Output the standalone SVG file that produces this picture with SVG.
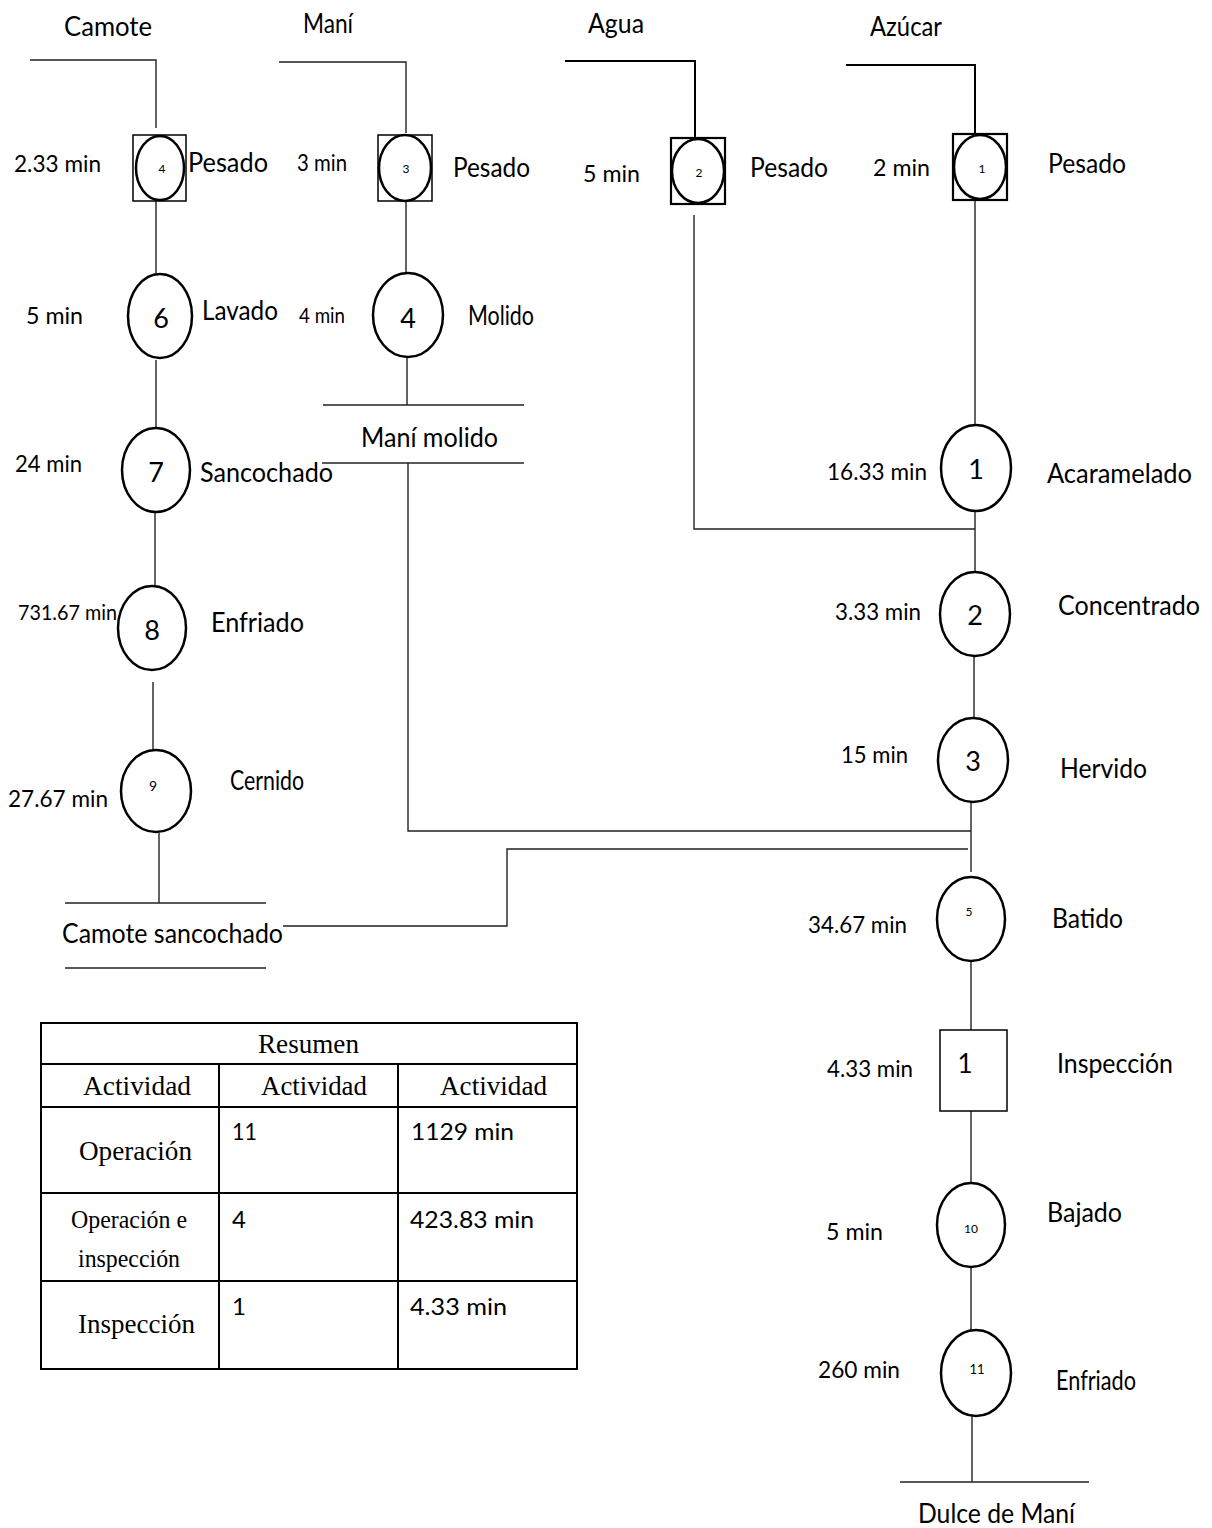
<svg xmlns="http://www.w3.org/2000/svg" width="1212" height="1528" viewBox="0 0 1212 1528">
  <style>
    .t { font-family: Lato, "Liberation Sans", sans-serif; font-size: 26px; fill: #000; }
    .m { font-family: Lato, "Liberation Sans", sans-serif; font-size: 24px; fill: #000; }
    .sm { font-family: Lato, "Liberation Sans", sans-serif; font-size: 21px; fill: #000; }
    .big { font-family: Lato, "Liberation Sans", sans-serif; font-size: 27px; fill: #000; text-anchor: middle; }
    .tiny { font-family: Lato, "Liberation Sans", sans-serif; font-size: 12px; fill: #000; text-anchor: middle; }
    .sf { font-family: "Liberation Serif", "Times New Roman", serif; font-size: 27px; fill: #000; }
    .op { fill: #fff; stroke: #000; stroke-width: 2.5; }
    .box { fill: none; stroke: #000; stroke-width: 1.5; }
    .boxb { fill: none; stroke: #000; stroke-width: 2.2; }
    .ln { fill: none; stroke: #222; stroke-width: 1.4; }
    .lnb { fill: none; stroke: #000; stroke-width: 2; }
    .grid { fill: none; stroke: #000; stroke-width: 2; }
  </style>

  <!-- connectors -->
  <g id="connectors">
    <!-- Camote branch -->
    <polyline class="ln" points="30,60 156,60 156,128"/>
    <line class="ln" x1="156" y1="201" x2="156" y2="275"/>
    <line class="ln" x1="156" y1="360" x2="156" y2="430"/>
    <line class="ln" x1="155" y1="512" x2="155" y2="586"/>
    <line class="ln" x1="153" y1="682" x2="153" y2="750"/>
    <line class="ln" x1="159" y1="833" x2="159" y2="903"/>
    <line class="ln" x1="65" y1="903" x2="266" y2="903"/>
    <line class="ln" x1="65" y1="968" x2="266" y2="968"/>
    <polyline class="ln" points="283,926 507,926 507,849 968,849"/>

    <!-- Maní branch -->
    <polyline class="ln" points="279,62 406,62 406,133"/>
    <line class="ln" x1="406" y1="201" x2="406" y2="273"/>
    <line class="ln" x1="407" y1="357" x2="407" y2="405"/>
    <line class="ln" x1="323" y1="405" x2="524" y2="405"/>
    <line class="ln" x1="322" y1="463" x2="524" y2="463"/>
    <polyline class="ln" points="408,463 408,831 971,831"/>

    <!-- Agua branch -->
    <polyline class="lnb" points="565,61 695,61 695,137"/>
    <polyline class="ln" points="694,215 694,529 975,529"/>

    <!-- Azúcar branch and main line -->
    <polyline class="lnb" points="846,65 975,65 975,135"/>
    <line class="ln" x1="975" y1="200" x2="975" y2="425"/>
    <line class="ln" x1="975" y1="511" x2="975" y2="572"/>
    <line class="ln" x1="974" y1="656" x2="974" y2="719"/>
    <line class="ln" x1="971" y1="802" x2="971" y2="872"/>
    <line class="ln" x1="971" y1="961" x2="971" y2="1030"/>
    <line class="ln" x1="971" y1="1111" x2="971" y2="1183"/>
    <line class="ln" x1="971" y1="1268" x2="971" y2="1331"/>
    <line class="ln" x1="972" y1="1414" x2="972" y2="1482"/>
    <line class="ln" x1="900" y1="1482" x2="1089" y2="1482"/>
  </g>

  <!-- input labels -->
  <g id="inputs">
    <text class="t" x="64" y="36" textLength="88" lengthAdjust="spacingAndGlyphs">Camote</text>
    <text class="t" x="303" y="33" textLength="50" lengthAdjust="spacingAndGlyphs">Maní</text>
    <text class="t" x="588" y="33" textLength="56" lengthAdjust="spacingAndGlyphs">Agua</text>
    <text class="t" x="870" y="36" textLength="72" lengthAdjust="spacingAndGlyphs">Azúcar</text>
  </g>

  <!-- Camote: Pesado -->
  <g id="camote-pesado">
    <rect class="box" x="133" y="135" width="53" height="66"/>
    <ellipse class="op" cx="160" cy="168" rx="24" ry="32"/>
    <text class="tiny" x="162" y="173">4</text>
    <text class="m" x="14" y="172" textLength="87" lengthAdjust="spacingAndGlyphs">2.33 min</text>
    <text class="t" x="188" y="172" textLength="80" lengthAdjust="spacingAndGlyphs">Pesado</text>
  </g>

  <!-- Maní: Pesado -->
  <g id="mani-pesado">
    <rect class="box" x="378" y="135" width="54" height="66"/>
    <ellipse class="op" cx="405" cy="168" rx="26" ry="33"/>
    <text class="tiny" x="406" y="173">3</text>
    <text class="m" x="297" y="171" textLength="50" lengthAdjust="spacingAndGlyphs">3 min</text>
    <text class="t" x="453" y="177" textLength="77" lengthAdjust="spacingAndGlyphs">Pesado</text>
  </g>

  <!-- Agua: Pesado -->
  <g id="agua-pesado">
    <rect class="boxb" x="671" y="138" width="54" height="66"/>
    <ellipse class="op" cx="698" cy="171" rx="26" ry="32"/>
    <text class="tiny" x="699" y="177">2</text>
    <text class="m" x="583" y="182" textLength="57" lengthAdjust="spacingAndGlyphs">5 min</text>
    <text class="t" x="750" y="177" textLength="78" lengthAdjust="spacingAndGlyphs">Pesado</text>
  </g>

  <!-- Azúcar: Pesado -->
  <g id="azucar-pesado">
    <rect class="boxb" x="953" y="134" width="54" height="66"/>
    <ellipse class="op" cx="980" cy="167" rx="26" ry="32"/>
    <text class="tiny" x="982" y="173">1</text>
    <text class="m" x="873" y="176" textLength="57" lengthAdjust="spacingAndGlyphs">2 min</text>
    <text class="t" x="1048" y="173" textLength="78" lengthAdjust="spacingAndGlyphs">Pesado</text>
  </g>

  <!-- Camote branch operations -->
  <g id="op-6">
    <ellipse class="op" cx="160" cy="316" rx="32" ry="42"/>
    <text class="big" x="161" y="328">6</text>
    <text class="m" x="26" y="324" textLength="57" lengthAdjust="spacingAndGlyphs">5 min</text>
    <text class="t" x="202" y="320" textLength="76" lengthAdjust="spacingAndGlyphs">Lavado</text>
  </g>
  <g id="op-7">
    <ellipse class="op" cx="156" cy="470" rx="34" ry="42"/>
    <text class="big" x="156" y="482">7</text>
    <text class="m" x="15" y="472" textLength="67" lengthAdjust="spacingAndGlyphs">24 min</text>
    <text class="t" x="200" y="482" textLength="133" lengthAdjust="spacingAndGlyphs">Sancochado</text>
  </g>
  <g id="op-8">
    <ellipse class="op" cx="152" cy="628" rx="34" ry="42"/>
    <text class="big" x="152" y="640">8</text>
    <text class="sm" x="18" y="620" textLength="99" lengthAdjust="spacingAndGlyphs">731.67 min</text>
    <text class="t" x="211" y="632" textLength="93" lengthAdjust="spacingAndGlyphs">Enfriado</text>
  </g>
  <g id="op-9">
    <ellipse class="op" cx="156" cy="791" rx="35" ry="41"/>
    <text class="tiny" x="153" y="791" style="font-size:14px">9</text>
    <text class="m" x="8" y="807" textLength="100" lengthAdjust="spacingAndGlyphs">27.67 min</text>
    <text class="t" x="230" y="790" textLength="74" lengthAdjust="spacingAndGlyphs">Cernido</text>
  </g>
  <g id="camote-sancochado">
    <text class="t" x="62" y="943" textLength="221" lengthAdjust="spacingAndGlyphs">Camote sancochado</text>
  </g>

  <!-- Maní branch operation -->
  <g id="op-4">
    <ellipse class="op" cx="408" cy="315" rx="35" ry="42"/>
    <text class="big" x="408" y="328">4</text>
    <text class="sm" x="299" y="323" textLength="46" lengthAdjust="spacingAndGlyphs">4 min</text>
    <text class="t" x="468" y="325" textLength="66" lengthAdjust="spacingAndGlyphs">Molido</text>
  </g>
  <g id="mani-molido">
    <text class="t" x="361" y="447" textLength="137" lengthAdjust="spacingAndGlyphs">Maní molido</text>
  </g>

  <!-- Main line -->
  <g id="op-1">
    <ellipse class="op" cx="976" cy="468" rx="35" ry="43"/>
    <text class="big" x="976" y="479">1</text>
    <text class="m" x="827" y="480" textLength="100" lengthAdjust="spacingAndGlyphs">16.33 min</text>
    <text class="t" x="1047" y="483" textLength="145" lengthAdjust="spacingAndGlyphs">Acaramelado</text>
  </g>
  <g id="op-2">
    <ellipse class="op" cx="975" cy="614" rx="35" ry="42"/>
    <text class="big" x="975" y="625">2</text>
    <text class="m" x="835" y="620" textLength="86" lengthAdjust="spacingAndGlyphs">3.33 min</text>
    <text class="t" x="1058" y="615" textLength="142" lengthAdjust="spacingAndGlyphs">Concentrado</text>
  </g>
  <g id="op-3">
    <ellipse class="op" cx="973" cy="760" rx="35" ry="42"/>
    <text class="big" x="973" y="771">3</text>
    <text class="m" x="841" y="763" textLength="67" lengthAdjust="spacingAndGlyphs">15 min</text>
    <text class="t" x="1060" y="778" textLength="87" lengthAdjust="spacingAndGlyphs">Hervido</text>
  </g>
  <g id="op-5">
    <ellipse class="op" cx="971" cy="919" rx="34" ry="42"/>
    <text class="tiny" x="969" y="916">5</text>
    <text class="m" x="808" y="933" textLength="99" lengthAdjust="spacingAndGlyphs">34.67 min</text>
    <text class="t" x="1052" y="928" textLength="71" lengthAdjust="spacingAndGlyphs">Batido</text>
  </g>
  <g id="insp-1">
    <rect class="box" x="940" y="1030" width="67" height="81" fill="#fff"/>
    <text class="big" x="965" y="1073" style="font-size:26px">1</text>
    <text class="m" x="827" y="1077" textLength="86" lengthAdjust="spacingAndGlyphs">4.33 min</text>
    <text class="t" x="1057" y="1073" textLength="116" lengthAdjust="spacingAndGlyphs">Inspección</text>
  </g>
  <g id="op-10">
    <ellipse class="op" cx="971" cy="1225" rx="34" ry="42"/>
    <text class="tiny" x="971" y="1233">10</text>
    <text class="m" x="826" y="1240" textLength="57" lengthAdjust="spacingAndGlyphs">5 min</text>
    <text class="t" x="1047" y="1222" textLength="75" lengthAdjust="spacingAndGlyphs">Bajado</text>
  </g>
  <g id="op-11">
    <ellipse class="op" cx="976" cy="1373" rx="35" ry="43"/>
    <text class="tiny" x="977" y="1374" style="font-size:13px">11</text>
    <text class="m" x="818" y="1378" textLength="82" lengthAdjust="spacingAndGlyphs">260 min</text>
    <text class="t" x="1056" y="1390" textLength="80" lengthAdjust="spacingAndGlyphs">Enfriado</text>
  </g>
  <g id="dulce-de-mani">
    <text class="t" x="918" y="1523" textLength="157" lengthAdjust="spacingAndGlyphs">Dulce de Maní</text>
  </g>

  <!-- summary table -->
  <g id="resumen">
    <rect class="grid" x="41" y="1023" width="536" height="346"/>
    <line class="grid" x1="41" y1="1064" x2="577" y2="1064"/>
    <line class="grid" x1="41" y1="1107" x2="577" y2="1107"/>
    <line class="grid" x1="41" y1="1193" x2="577" y2="1193"/>
    <line class="grid" x1="41" y1="1281" x2="577" y2="1281"/>
    <line class="grid" x1="219" y1="1064" x2="219" y2="1369"/>
    <line class="grid" x1="398" y1="1064" x2="398" y2="1369"/>
    <text class="sf" x="258" y="1053" textLength="101" lengthAdjust="spacingAndGlyphs">Resumen</text>
    <text class="sf" x="83" y="1095" textLength="108" lengthAdjust="spacingAndGlyphs">Actividad</text>
    <text class="sf" x="261" y="1095" textLength="106" lengthAdjust="spacingAndGlyphs">Actividad</text>
    <text class="sf" x="440" y="1095" textLength="107" lengthAdjust="spacingAndGlyphs">Actividad</text>
    <text class="sf" x="79" y="1160" textLength="113" lengthAdjust="spacingAndGlyphs">Operación</text>
    <text class="sf" x="71" y="1228" textLength="116" lengthAdjust="spacingAndGlyphs" style="font-size:25px">Operación e</text>
    <text class="sf" x="78" y="1267" textLength="102" lengthAdjust="spacingAndGlyphs" style="font-size:25px">inspección</text>
    <text class="sf" x="78" y="1333" textLength="117" lengthAdjust="spacingAndGlyphs">Inspección</text>
    <text class="m" x="232" y="1140" textLength="25" lengthAdjust="spacingAndGlyphs">11</text>
    <text class="m" x="232" y="1228">4</text>
    <text class="m" x="232" y="1315">1</text>
    <text class="m" x="411" y="1140" textLength="103" lengthAdjust="spacingAndGlyphs">1129 min</text>
    <text class="m" x="410" y="1228" textLength="124" lengthAdjust="spacingAndGlyphs">423.83 min</text>
    <text class="m" x="410" y="1315" textLength="97" lengthAdjust="spacingAndGlyphs">4.33 min</text>
  </g>
</svg>
